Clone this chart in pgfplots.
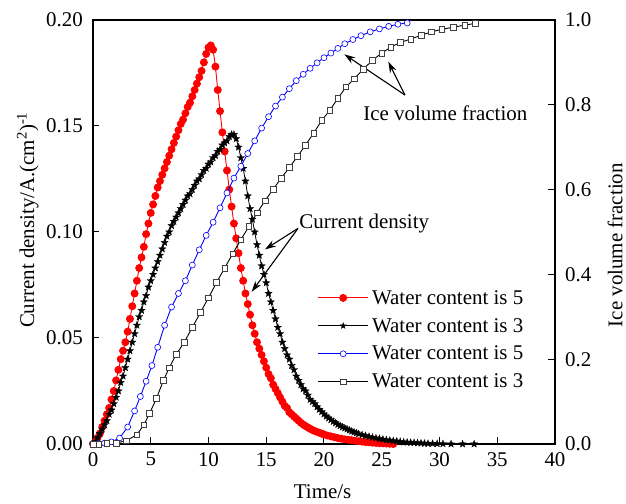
\documentclass[border=0pt]{standalone}
\usepackage{fontspec}
\setmainfont{Liberation Serif}
\usepackage{pgfplots}
\pgfplotsset{compat=1.18}
\usetikzlibrary{arrows.meta}

% filled five-pointed star marker
\pgfdeclareplotmark{fivestar}{%
  \pgfpathmoveto{\pgfpointpolar{90}{\pgfplotmarksize}}%
  \pgfpathlineto{\pgfpointpolar{126}{0.42\pgfplotmarksize}}%
  \pgfpathlineto{\pgfpointpolar{162}{\pgfplotmarksize}}%
  \pgfpathlineto{\pgfpointpolar{198}{0.42\pgfplotmarksize}}%
  \pgfpathlineto{\pgfpointpolar{234}{\pgfplotmarksize}}%
  \pgfpathlineto{\pgfpointpolar{270}{0.42\pgfplotmarksize}}%
  \pgfpathlineto{\pgfpointpolar{306}{\pgfplotmarksize}}%
  \pgfpathlineto{\pgfpointpolar{342}{0.42\pgfplotmarksize}}%
  \pgfpathlineto{\pgfpointpolar{18}{\pgfplotmarksize}}%
  \pgfpathlineto{\pgfpointpolar{54}{0.42\pgfplotmarksize}}%
  \pgfpathclose
  \pgfusepathqfillstroke}

\pgfplotsset{
  common/.style={
    scale only axis, width=462bp, height=424bp,
    at={(0,0)}, anchor=south west,
    xmin=0, xmax=40,
    font=\fontsize{21}{25}\selectfont,
    /pgf/number format/assume math mode=true,
    axis line style={line width=1.1bp},
    major tick length=6.5bp,
    every tick/.style={line width=1bp, black},
    tick align=inside,
  },
}

\begin{document}
\begin{tikzpicture}
% current density (left axis)
\begin{axis}[common,
  ymin=0, ymax=0.20,
  xtick={0,5,...,40}, ytick={0,0.05,...,0.2001},
  xtick pos=left, ytick pos=left,
  yticklabel style={inner sep=0pt, xshift=-10bp,
    /pgf/number format/fixed, /pgf/number format/fixed zerofill, /pgf/number format/precision=2},
  xticklabel style={inner sep=0pt, yshift=-8bp},
  xlabel={Time/s},
  ylabel={Current density/A.(cm\textsuperscript{2})\textsuperscript{-1}},
  every axis x label/.style={at={(axis description cs:0.497,-0.112)}, anchor=center},
  every axis y label/.style={at={(axis description cs:-0.141,0.528)}, rotate=90, anchor=center},
]
\addplot[red, line width=0.9bp, mark=*, mark size=3.5bp, mark options={fill=red}] table {
0 0.000
0.2 0.001
0.4 0.003
0.6 0.005
0.8 0.008
1.0 0.011
1.2 0.014
1.4 0.017
1.6 0.021
1.8 0.025
2.0 0.030
2.2 0.035
2.4 0.040
2.6 0.044
2.8 0.048
3.0 0.053
3.2 0.059
3.4 0.065
3.6 0.071
3.8 0.077
4.0 0.083
4.2 0.088
4.4 0.093
4.6 0.099
4.8 0.104
5.0 0.109
5.2 0.113
5.4 0.117
5.6 0.121
5.8 0.124
6.0 0.127
6.2 0.130
6.4 0.133
6.6 0.136
6.8 0.139
7.0 0.142
7.2 0.145
7.4 0.148
7.6 0.151
7.8 0.153
8.0 0.156
8.2 0.159
8.4 0.161
8.6 0.164
8.8 0.167
9.0 0.170
9.2 0.173
9.4 0.176
9.6 0.180
9.8 0.184
10.0 0.187
10.2 0.188
10.4 0.186
10.6 0.178
10.8 0.167
11.0 0.157
11.2 0.147
11.4 0.138
11.6 0.129
11.8 0.120
12.0 0.112
12.2 0.104
12.4 0.097
12.6 0.090
12.8 0.083
13.0 0.077
13.2 0.071
13.4 0.066
13.6 0.061
13.8 0.056
14.0 0.052
14.2 0.048
14.4 0.045
14.6 0.042
14.8 0.039
15.0 0.036
15.2 0.033
15.4 0.031
15.6 0.028
15.8 0.026
16.0 0.024
16.2 0.022
16.4 0.020
16.6 0.018
16.8 0.017
17.0 0.015
17.2 0.014
17.4 0.013
17.6 0.012
17.8 0.011
18.0 0.010
18.2 0.0092
18.4 0.0085
18.6 0.0078
18.8 0.0072
19.0 0.0066
19.2 0.0061
19.4 0.0057
19.6 0.0053
19.8 0.0049
20.0 0.0045
20.3 0.0040
20.6 0.0036
20.9 0.0032
21.2 0.0028
21.5 0.0025
21.8 0.0022
22.1 0.0020
22.4 0.0018
22.7 0.0015
23.0 0.0013
23.3 0.0011
23.6 0.0009
23.9 0.0008
24.2 0.0006
24.5 0.0005
24.8 0.0004
25.1 0.0003
25.4 0.0002
25.7 0.0001
26.0 0.0000
};
\addplot[black, line width=0.8bp, mark=fivestar, mark size=3.8bp, mark options={fill=black, line width=0.3bp}] table {
0 0.000
0.2 0.001
0.4 0.003
0.6 0.005
0.8 0.007
1.0 0.009
1.2 0.011
1.4 0.014
1.6 0.016
1.8 0.019
2.0 0.022
2.2 0.025
2.4 0.029
2.6 0.032
2.8 0.036
3.0 0.040
3.2 0.044
3.4 0.048
3.6 0.052
3.8 0.056
4.0 0.060
4.2 0.063
4.4 0.067
4.6 0.070
4.8 0.074
5.0 0.077
5.2 0.080
5.4 0.083
5.6 0.086
5.8 0.089
6.0 0.092
6.2 0.095
6.4 0.098
6.6 0.100
6.8 0.103
7.0 0.105
7.2 0.107
7.4 0.109
7.6 0.111
7.8 0.113
8.0 0.115
8.2 0.117
8.4 0.118
8.6 0.120
8.8 0.122
9.0 0.124
9.2 0.125
9.4 0.127
9.6 0.129
9.8 0.130
10.0 0.132
10.2 0.133
10.4 0.135
10.6 0.136
10.8 0.138
11.0 0.139
11.2 0.141
11.4 0.142
11.6 0.143
11.8 0.145
12.0 0.146
12.2 0.146
12.4 0.144
12.6 0.140
12.8 0.135
13.0 0.130
13.2 0.124
13.4 0.117
13.6 0.111
13.8 0.106
14.0 0.100
14.2 0.094
14.4 0.089
14.6 0.084
14.8 0.080
15.0 0.076
15.2 0.071
15.4 0.067
15.6 0.063
15.8 0.059
16.0 0.055
16.2 0.052
16.4 0.048
16.6 0.045
16.8 0.042
17.0 0.040
17.2 0.037
17.4 0.035
17.6 0.032
17.8 0.030
18.0 0.028
18.2 0.026
18.4 0.025
18.6 0.023
18.8 0.021
19.0 0.020
19.2 0.019
19.4 0.0175
19.6 0.0163
19.8 0.0152
20.0 0.0141
20.2 0.0131
20.4 0.0122
20.6 0.0114
20.8 0.0106
21.0 0.0099
21.2 0.0092
21.4 0.0086
21.6 0.0080
21.8 0.0075
22.0 0.0070
22.2 0.0065
22.4 0.0060
22.6 0.0056
22.8 0.0052
23.0 0.0048
23.3 0.0043
23.6 0.0039
23.9 0.0035
24.2 0.0031
24.5 0.0028
24.8 0.0025
25.1 0.0022
25.4 0.0019
25.7 0.0017
26.0 0.0015
26.3 0.0013
26.6 0.0011
26.9 0.0009
27.2 0.0008
27.5 0.0007
27.8 0.0006
28.1 0.0005
28.4 0.0004
28.7 0.0003
29.0 0.0002
29.4 0.0002
29.8 0.0001
30.3 0.0001
31.0 0.0000
32.0 0.0000
33.0 0.0000
};
% annotations
\node[anchor=base west, inner sep=0pt] at (axis cs:17.86,0.1017) {Current density};
\draw[line width=1.1bp, -{Stealth[length=11bp,width=7bp]}] (axis cs:17.75,0.1017) -- (axis cs:14.89,0.0918);
\draw[line width=1.1bp, -{Stealth[length=11bp,width=7bp]}] (axis cs:17.75,0.1017) -- (axis cs:13.74,0.0718);
\node[anchor=base west, inner sep=0pt] at (axis cs:23.40,0.1524) {Ice volume fraction};
\draw[line width=1.1bp, -{Stealth[length=11bp,width=7bp]}] (axis cs:27.01,0.1646) -- (axis cs:21.76,0.1838);
\draw[line width=1.1bp, -{Stealth[length=11bp,width=7bp]}] (axis cs:27.01,0.1646) -- (axis cs:25.57,0.1803);
\end{axis}

% ice volume fraction (right axis)
\begin{axis}[common,
  ymin=0, ymax=1.0,
  axis x line=none, axis y line*=right,
  ytick={0,0.2,...,1.001},
  yticklabel style={inner sep=0pt, xshift=10bp,
    /pgf/number format/fixed, /pgf/number format/fixed zerofill, /pgf/number format/precision=1},
  ylabel={Ice volume fraction},
  every axis y label/.style={at={(axis description cs:1.130,0.469)}, rotate=90, anchor=center},
  legend cell align=left,
  legend style={draw=none, fill=none, inner sep=0pt, row sep=0pt,
    at={(axis description cs:0.486,0.378)}, anchor=north west,
    nodes={inner ysep=6.3bp, inner xsep=3.5bp}},
  legend image code/.code={%
    \draw[mark repeat=2, mark phase=2, #1] plot coordinates {(0bp,0bp) (25bp,0bp) (50bp,0bp)};},
]
\addlegendimage{red, line width=0.9bp, mark=*, mark size=3.5bp, mark options={fill=red}}
\addlegendentry{Water content is 5}
\addlegendimage{black, line width=0.8bp, mark=fivestar, mark size=3.2bp, mark options={fill=black, line width=0.3bp}}
\addlegendentry{Water content is 3}
\addplot[blue, line width=0.9bp, mark=*, mark size=3bp, mark options={fill=white, draw=blue, line width=0.6bp}] table {
0 0.000
0.5 0.001
1.0 0.002
1.6 0.005
2.3 0.014
3.0 0.040
3.6 0.078
4.1 0.112
4.6 0.148
5.1 0.185
5.6 0.228
6.2 0.280
6.8 0.323
7.4 0.355
8.0 0.385
8.6 0.422
9.2 0.458
9.8 0.492
10.4 0.523
11.0 0.557
11.6 0.592
12.2 0.627
12.8 0.655
13.4 0.685
14.0 0.715
14.6 0.745
15.2 0.772
15.8 0.797
16.4 0.818
17.0 0.838
17.6 0.857
18.2 0.872
18.8 0.886
19.4 0.899
20.0 0.911
20.6 0.922
21.2 0.933
21.8 0.944
22.5 0.954
23.2 0.963
24.0 0.972
24.8 0.979
25.6 0.985
26.4 0.990
27.2 0.993
};
\addlegendentry{Water content is 5}
\addplot[black, line width=0.9bp, mark=square*, mark size=2.8bp, mark options={fill=white, draw=black!75, line width=0.6bp}] table {
0 0.000
0.5 0.000
1.2 0.001
2.0 0.002
2.9 0.008
3.8 0.022
4.4 0.045
4.9 0.072
5.5 0.108
6.1 0.150
6.6 0.180
7.2 0.211
7.9 0.240
8.6 0.275
9.3 0.310
10.0 0.345
10.7 0.381
11.4 0.415
12.1 0.449
12.8 0.482
13.5 0.513
14.2 0.545
14.9 0.574
15.6 0.601
16.3 0.627
17.0 0.652
17.7 0.678
18.4 0.705
19.1 0.733
19.8 0.763
20.5 0.787
21.2 0.815
21.9 0.842
22.6 0.861
23.4 0.884
24.2 0.905
25.0 0.922
25.8 0.936
26.6 0.947
27.5 0.955
28.4 0.964
29.3 0.972
30.2 0.978
31.2 0.983
32.2 0.988
33.1 0.992
};
\addlegendentry{Water content is 3}
\end{axis}
% page frame
\path (-93bp,-60bp) rectangle (533bp,444bp);
\end{tikzpicture}
\end{document}
